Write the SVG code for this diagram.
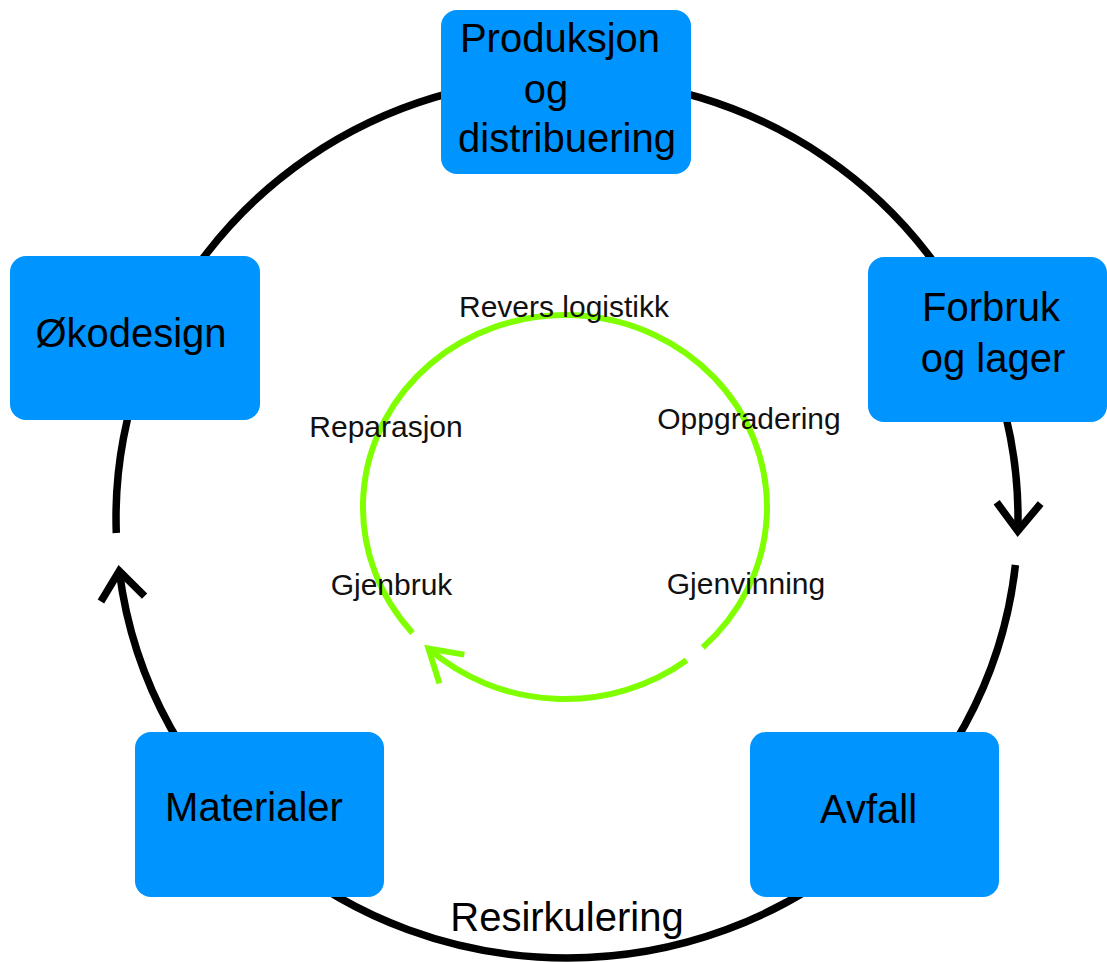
<svg xmlns="http://www.w3.org/2000/svg" width="1107" height="962" viewBox="0 0 1107 962">
<style>
  .box { fill: #0094ff; }
  .big { font-family: "Liberation Sans", Arial, Helvetica, sans-serif; font-size: 40px; fill: #000; text-anchor: middle; }
  .small { font-family: "Liberation Sans", Arial, Helvetica, sans-serif; font-size: 30px; fill: #111; text-anchor: middle; }
  .ring { fill: none; stroke: #000; stroke-width: 7.5; }
  .loop { fill: none; stroke: #80ff00; stroke-width: 6; }
</style>
<defs>
  <marker id="blackArrow" markerUnits="userSpaceOnUse" markerWidth="80" markerHeight="80" refX="0" refY="0" orient="auto" overflow="visible">
    <path d="M-28,-22 L0,0 L-28,22" fill="none" stroke="#000" stroke-width="7.5" stroke-linejoin="miter"/>
  </marker>
  <marker id="greenArrow" markerUnits="userSpaceOnUse" markerWidth="80" markerHeight="80" refX="0" refY="0" orient="auto" overflow="visible">
    <path d="M-31,-19 L0,0 L-31,19" fill="none" stroke="#80ff00" stroke-width="6" stroke-linejoin="miter"/>
  </marker>
</defs>
<rect x="0" y="0" width="1107" height="962" fill="#fff"/>

<g id="connectors">
  <!-- outer cycle -->
  <path class="ring" d="M143.2,367.5 A451,440 0 0 1 567,78"/>
  <path class="ring" d="M567,78 A451,440 0 0 1 990.8,367.5"/>
  <path class="ring" d="M990.8,367.5 A451,440 0 0 1 1017.8,531" marker-end="url(#blackArrow)"/>
  <path class="ring" d="M1015.4,565 A451,440 0 0 1 856.9,855"/>
  <path class="ring" d="M856.9,855 A451,440 0 0 1 277.1,855"/>
  <path class="ring" d="M277.1,855 A451,440 0 0 1 119.3,571" marker-end="url(#blackArrow)"/>
  <path class="ring" d="M116.3,533 A451,440 0 0 1 143.2,367.5"/>
  <text class="big" x="567" y="931">Resirkulering</text>

  <!-- inner loop -->
  <path class="loop" d="M702.8,647.4 A202,192 0 1 0 412.5,633"/>
  <path class="loop" d="M686.6,660.3 A202,192 0 0 1 428.5,648.6" marker-end="url(#greenArrow)"/>
  <text class="small" x="564" y="317">Revers logistikk</text>
  <text class="small" x="386" y="437">Reparasjon</text>
  <text class="small" x="749" y="429">Oppgradering</text>
  <text class="small" x="391.5" y="595">Gjenbruk</text>
  <text class="small" x="746" y="594">Gjenvinning</text>
</g>

<g id="produksjon">
  <rect class="box" x="441" y="10" width="250" height="164" rx="16"/>
  <text class="big" x="560" y="52">Produksjon</text>
  <text class="big" x="546" y="103">og</text>
  <text class="big" x="567" y="152">distribuering</text>
</g>
<g id="forbruk">
  <rect class="box" x="868" y="257" width="239" height="165" rx="16"/>
  <text class="big" x="991" y="321">Forbruk</text>
  <text class="big" x="993" y="372">og lager</text>
</g>
<g id="avfall">
  <rect class="box" x="750" y="732" width="249" height="165" rx="16"/>
  <text class="big" x="868.5" y="823">Avfall</text>
</g>
<g id="materialer">
  <rect class="box" x="135" y="732" width="249" height="165" rx="16"/>
  <text class="big" x="254" y="821">Materialer</text>
</g>
<g id="okodesign">
  <rect class="box" x="10" y="256" width="250" height="164" rx="16"/>
  <text class="big" x="131" y="347">Økodesign</text>
</g>
</svg>
